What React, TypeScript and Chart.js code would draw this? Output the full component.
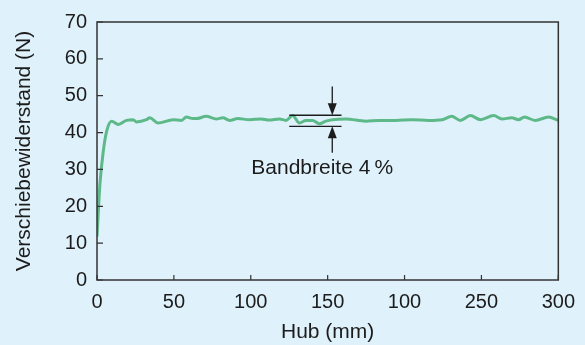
import React, { useEffect, useRef } from "react";
import { Chart, registerables } from "chart.js";

Chart.register(...registerables);

const hubValues = [
  0, 0.9, 1.9, 4.1, 6.3, 9.5, 13.8, 19.2, 23.5, 25.7, 32.2, 34.3, 39.7, 49.5, 54.9, 58.1, 62.4,
  64.6, 71, 77.6, 81.9, 86.2, 91.6, 99.2, 106.7, 112, 118.6, 122.9, 127.2, 131.6, 135.9,
  140.2, 144.5, 148.8, 153.2, 161.8, 174.8, 183.4, 194.2, 205, 215.8, 224.4, 230.7, 236.3,
  242.8, 249.3, 258, 263.3, 269.8, 274.1, 278, 285, 293.6, 300,
];
const forceValues = [
  11.8, 18.8, 26, 35, 40.4, 43.1, 42.2, 43.3, 43.5, 42.9, 43.5, 44.0, 42.6, 43.5, 43.3, 44.2, 43.8,
  43.8, 44.4, 43.7, 44.0, 43.3, 43.8, 43.5, 43.7, 43.4, 43.7, 43.3, 44.6, 42.6, 43.3,
  43.3, 42.4, 43.1, 43.5, 43.7, 43.1, 43.3, 43.3, 43.5, 43.3, 43.5, 44.4, 43.3,
  44.6, 43.5, 44.6, 43.7, 44.0, 43.5, 44.2, 43.3, 44.2, 43.3,
];
const xTickValues = [0, 50, 100, 150, 200, 250, 300];
const xTickLabels = ["0", "50", "100", "150", "100", "250", "300"];
const yTickValues = [0, 10, 20, 30, 40, 50, 60, 70];

const bandTop = 44.7;
const bandBottom = 41.7;
const bandFrom = 125;
const bandTo = 159;
const arrowX = 153;
const arrowTopStart = 52.5;
const arrowBottomEnd = 34.5;
const bandLabel = "Bandbreite 4\u2009%";
const bandLabelX = 146.5;
const bandLabelY = 30.2;

const BG = "#dff1fb";
const INK = "#1c1c1c";
const FONT = "'Liberation Sans', Arial, Helvetica, sans-serif";

const framePlugin = {
  id: "frame",
  afterDatasetsDraw(chart: any) {
    const { ctx, chartArea: a, scales } = chart;
    const xs = scales.x;
    const ys = scales.y;
    ctx.save();
    ctx.strokeStyle = "#333333";
    ctx.lineWidth = 1.5;
    ctx.strokeRect(a.left, a.top, a.right - a.left, a.bottom - a.top);
    ctx.lineWidth = 1.2;
    ctx.beginPath();
    xTickValues.forEach((v) => {
      const px = xs.getPixelForValue(v);
      ctx.moveTo(px, a.bottom);
      ctx.lineTo(px, a.bottom - 5);
    });
    yTickValues.forEach((v) => {
      const py = ys.getPixelForValue(v);
      ctx.moveTo(a.left, py);
      ctx.lineTo(a.left + 6, py);
    });
    ctx.stroke();

    // band annotation
    ctx.strokeStyle = INK;
    ctx.fillStyle = INK;
    ctx.lineWidth = 1.3;
    const x1 = xs.getPixelForValue(bandFrom);
    const x2 = xs.getPixelForValue(bandTo);
    const yt = ys.getPixelForValue(bandTop);
    const yb = ys.getPixelForValue(bandBottom);
    ctx.beginPath();
    ctx.moveTo(x1, yt);
    ctx.lineTo(x2, yt);
    ctx.moveTo(x1, yb);
    ctx.lineTo(x2, yb);
    const ax = xs.getPixelForValue(arrowX);
    const aTop = ys.getPixelForValue(arrowTopStart);
    const aBot = ys.getPixelForValue(arrowBottomEnd);
    ctx.moveTo(ax, aTop);
    ctx.lineTo(ax, yt - 8);
    ctx.moveTo(ax, aBot);
    ctx.lineTo(ax, yb + 8);
    ctx.stroke();
    const head = 12;
    const hw = 4.5;
    ctx.beginPath();
    ctx.moveTo(ax, yt);
    ctx.lineTo(ax - hw, yt - head);
    ctx.lineTo(ax + hw, yt - head);
    ctx.closePath();
    ctx.fill();
    ctx.beginPath();
    ctx.moveTo(ax, yb);
    ctx.lineTo(ax - hw, yb + head);
    ctx.lineTo(ax + hw, yb + head);
    ctx.closePath();
    ctx.fill();

    ctx.font = `21px ${FONT}`;
    ctx.textAlign = "center";
    ctx.textBaseline = "middle";
    ctx.fillText(bandLabel, xs.getPixelForValue(bandLabelX), ys.getPixelForValue(bandLabelY));
    ctx.restore();
  },
};

export default function App() {
  const ref = useRef<HTMLCanvasElement>(null);
  useEffect(() => {
    document.body.style.margin = "0";
    document.body.style.background = BG;
    const chart = new Chart(ref.current as HTMLCanvasElement, {
      type: "line",
      data: {
        datasets: [
          {
            data: hubValues.map((x, i) => ({ x, y: forceValues[i] })),
            borderColor: "#5db988",
            borderWidth: 3,
            pointRadius: 0,
            tension: 0.4,
            cubicInterpolationMode: "monotone",
            fill: false,
          },
        ],
      },
      options: {
        animation: false,
        responsive: false,
        layout: { padding: { top: 20, right: 25, left: 0, bottom: 0 } },
        plugins: { legend: { display: false }, tooltip: { enabled: false } },
        scales: {
          x: {
            type: "linear",
            min: 0,
            max: 300,
            afterBuildTicks: (s: any) => {
              s.ticks = xTickValues.map((v) => ({ value: v }));
            },
            afterFit: (s: any) => {
              s.height = 65;
            },
            grid: { display: false, drawTicks: false },
            border: { display: false },
            ticks: {
              padding: 10,
              color: INK,
              font: { family: FONT, size: 20 },
              maxRotation: 0,
              callback: (v: any) => {
                const i = xTickValues.indexOf(Number(v));
                return i >= 0 ? xTickLabels[i] : "";
              },
            },
            title: {
              display: true,
              text: "Hub (mm)",
              color: INK,
              font: { family: FONT, size: 21 },
              padding: { top: 0, bottom: 0 },
            },
          },
          y: {
            type: "linear",
            min: 0,
            max: 70,
            afterBuildTicks: (s: any) => {
              s.ticks = yTickValues.map((v) => ({ value: v }));
            },
            afterFit: (s: any) => {
              s.width = 97;
            },
            grid: { display: false, drawTicks: false },
            border: { display: false },
            ticks: {
              padding: 10,
              color: INK,
              font: { family: FONT, size: 20 },
            },
            title: {
              display: true,
              text: "Verschiebewiderstand (N)",
              color: INK,
              font: { family: FONT, size: 21 },
              padding: { top: 12, bottom: 0 },
            },
          },
        },
      },
      plugins: [framePlugin],
    } as any);
    return () => chart.destroy();
  }, []);
  return (
    <div style={{ width: 585, height: 345, background: BG }}>
      <canvas ref={ref} width={585} height={345} />
    </div>
  );
}
